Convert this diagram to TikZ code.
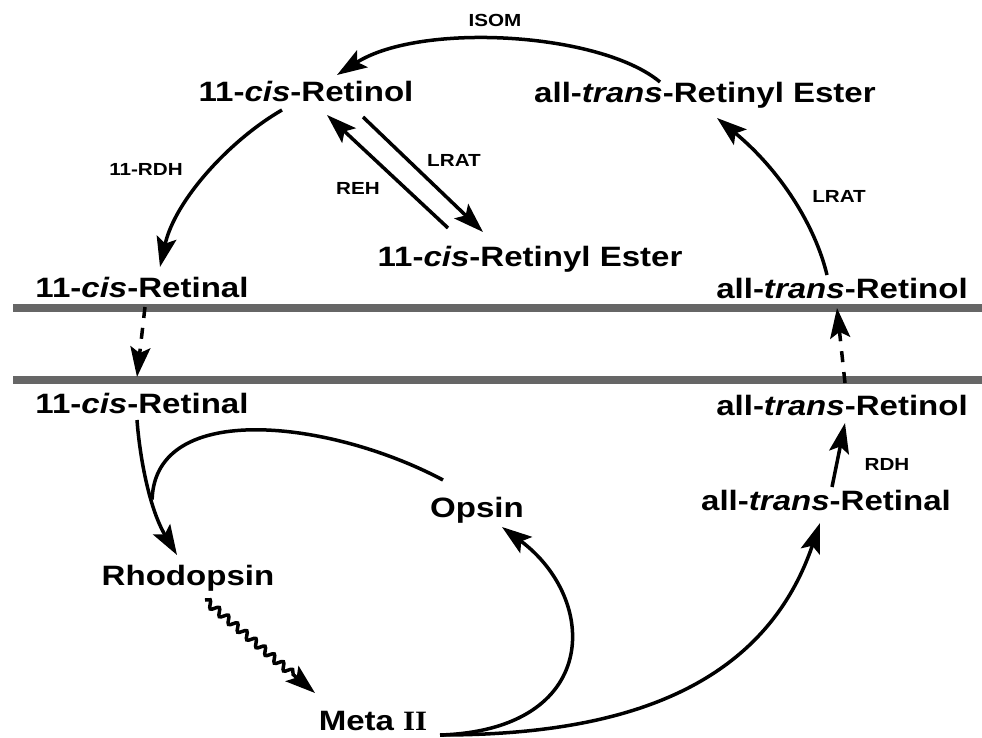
\documentclass[tikz,border=0pt]{standalone}
\usepackage{fontspec}
\setmainfont{Liberation Sans}[FakeStretch=1.18]
\newfontfamily\romnum{Liberation Serif}[FakeStretch=1.1]
\usetikzlibrary{arrows.meta,decorations.pathmorphing}
\begin{document}
\begin{tikzpicture}[x=1pt,y=-1pt,
  big/.style={inner sep=0pt,anchor=base,font=\fontsize{28}{30}\selectfont\bfseries},
  small/.style={inner sep=0pt,anchor=base,font=\fontsize{17.5}{19}\selectfont\bfseries},
  rx/.style={line width=3.5pt,-{Stealth[length=30pt,width=20pt,inset=6pt]}},
  plain/.style={line width=3.5pt},
  dashrx/.style={rx,dash pattern=on 11pt off 10pt},
  membrane/.style={line width=8pt,draw=black!60}]
\useasboundingbox (0,0) rectangle (982,738);
% membranes
\coordinate (m1l) at (13,308); \coordinate (m1r) at (982,308);
\coordinate (m2l) at (13,380); \coordinate (m2r) at (982,380);
\draw[membrane] (m1l) -- (m1r);
\draw[membrane] (m2l) -- (m2r);
% labels
\node[small] (isom) at (495,27) {ISOM};
\node[big] (cRol) at (306,102) {11-\textit{cis}-Retinol};
\node[big] (tRE) at (705,103) {all-\textit{trans}-Retinyl Ester};
\node[small] (rdh11) at (146,176) {11-RDH};
\node[small] (reh) at (358,195) {REH};
\node[small] (lrat1) at (454,167) {LRAT};
\node[big] (cRE) at (530,266) {11-\textit{cis}-Retinyl Ester};
\node[big] (cRal1) at (142,297) {11-\textit{cis}-Retinal};
\node[small] (lrat2) at (839,203) {LRAT};
\node[big] (tRol1) at (842,298) {all-\textit{trans}-Retinol};
\node[big] (cRal2) at (142,413) {11-\textit{cis}-Retinal};
\node[big] (tRol2) at (842,415) {all-\textit{trans}-Retinol};
\node[small] (rdh) at (887,470) {RDH};
\node[big] (tRal) at (826,510) {all-\textit{trans}-Retinal};
\node[big] (opsin) at (477,517) {Opsin};
\node[big] (rho) at (188,585) {Rhodopsin};
\node[big] (meta) at (373,730) {Meta {\romnum\bfseries II}};
% connectors
\draw[rx] ([shift={(-45,-21)}]tRE.base) .. controls +(-60,-50) and +(83,-53) .. ([shift={(31,-27)}]cRol.base);
\draw[rx] ([shift={(-24,8)}]cRol.base) .. controls +(-52,30) and +(15,-67) .. ([shift={(18,-30)}]cRal1.base);
\draw[rx] ([shift={(57,15)}]cRol.base) -- ([shift={(-47,-34)}]cRE.base);
\draw[rx] ([shift={(-82,-38)}]cRE.base) -- ([shift={(21,13)}]cRol.base);
\draw[rx] ([shift={(-15,-23)}]tRol1.base) .. controls +(-12,-50) and +(63,52) .. ([shift={(12,15)}]tRE.base);
\draw[dashrx] ([shift={(3,10)}]cRal1.base) -- ([shift={(-5,-36)}]cRal2.base);
\draw[dashrx] ([shift={(3,-32)}]tRol2.base) -- ([shift={(-5,10)}]tRol1.base);
\draw[rx] ([shift={(6,-23)}]tRal.base) -- ([shift={(3,8)}]tRol2.base);
\draw[rx] ([shift={(-5,7)}]cRal2.base) .. controls +(3,40) and +(-27,-45) .. coordinate[pos=0.6] (join) ([shift={(-11,-30)}]rho.base);
\draw[plain] ([shift={(-34,-37)}]opsin.base) .. controls +(-113,-60) and +(3,-100) .. (join);
\draw[rx,decorate,decoration={snake,amplitude=3.5pt,segment length=12pt,post length=26pt}] ([shift={(17,15)}]rho.base) -- ([shift={(-58,-37)}]meta.base);
\draw[rx] ([shift={(67,5)}]meta.base) .. controls +(160,-5) and +(98,73) .. ([shift={(25,10)}]opsin.base);
\draw[rx] ([shift={(67,5)}]meta.base) .. controls +(160,0) and +(-60,177) .. ([shift={(-6,13)}]tRal.base);
\end{tikzpicture}
\end{document}
